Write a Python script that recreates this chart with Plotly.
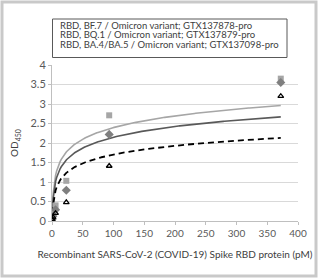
import numpy as np
import plotly.graph_objects as go

# ---- data ----
conc = [0.0908, 0.363, 1.45, 5.81, 23.25, 93, 372]          # pM, 4-fold dilutions
bf7 = [0.08, 0.12, 0.20, 0.40, 1.03, 2.71, 3.65]             # RBD, BF.7
bq1 = [0.05, 0.06, 0.12, 0.29, 0.79, 2.22, 3.55]             # RBD, BQ.1
ba45 = [0.04, 0.05, 0.10, 0.20, 0.48, 1.41, 3.20]            # RBD, BA.4/BA.5
series_names = [
    "RBD, BF.7 / Omicron variant; GTX137878-pro",
    "RBD, BQ.1 / Omicron variant; GTX137879-pro",
    "RBD, BA.4/BA.5 / Omicron variant; GTX137098-pro",
]
x_ticks = [0, 50, 100, 150, 200, 250, 300, 350, 400]
y_ticks = [0, 0.5, 1, 1.5, 2, 2.5, 3, 3.5, 4]

FONT = "Lato, Roboto, sans-serif"
W, H = 318, 278
L, R, T, B = 52, 20, 65, 57
pw, ph = W - L - R, H - T - B


def px2paper(px, py):
    return (px - L) / pw, (H - B - py) / ph


fig = go.Figure()

styles = [
    dict(marker=dict(symbol="square", size=6, color="#a6a6a6"),
         line=dict(color="#a6a6a6", width=1.6)),
    dict(marker=dict(symbol="diamond", size=7, color="#7f7f7f"),
         line=dict(color="#595959", width=1.6)),
    dict(marker=dict(symbol="triangle-up-open", size=5, color="#000000",
                     line=dict(width=1.3, color="#000000")),
         line=dict(color="#000000", width=1.8, dash="6px,4px")),
]

x_arr = np.array(conc)
fit_x = np.sort(np.concatenate([x_arr, np.linspace(x_arr.min(), x_arr.max(), 200)]))
for ys, st, nm in zip([bf7, bq1, ba45], styles, series_names):
    # logarithmic trend line (least squares on ln x), as in the original
    a, b = np.polyfit(np.log(x_arr), np.array(ys), 1)
    fig.add_trace(go.Scatter(x=fit_x, y=a * np.log(fit_x) + b, mode="lines",
                             line=st["line"], hoverinfo="skip", showlegend=False))
for ys, st, nm in zip([bf7, bq1, ba45], styles, series_names):
    fig.add_trace(go.Scatter(x=conc, y=ys, mode="markers", name=nm,
                             marker=st["marker"], showlegend=False, cliponaxis=True))

# outer frame
fx0, fy0 = px2paper(2, 276)
fx1, fy1 = px2paper(316, 2)
fig.add_shape(type="rect", xref="paper", yref="paper", x0=fx0, y0=fy0, x1=fx1, y1=fy1,
              line=dict(color="#c9c9c9", width=3), layer="below")
# legend box
bx0, by0 = px2paper(52.5, 57.5)
bx1, by1 = px2paper(287, 19)
fig.add_shape(type="rect", xref="paper", yref="paper", x0=bx0, y0=by0, x1=bx1, y1=by1,
              line=dict(color="#595959", width=1), fillcolor="white")
for i, nm in enumerate(series_names):
    tx, ty = px2paper(57.5, 25 + i * 9.7)
    fig.add_annotation(text=nm, xref="paper", yref="paper", x=tx, y=ty,
                       xanchor="left", yanchor="middle", showarrow=False,
                       font=dict(family=FONT, size=9.5, color="#404040"))

fig.update_layout(
    width=W, height=H,
    margin=dict(l=L, r=R, t=T, b=B),
    paper_bgcolor="white", plot_bgcolor="white",
    font=dict(family=FONT, size=10, color="#595959"),
)
fig.update_xaxes(range=[0, 400], tickvals=x_ticks, ticktext=[str(v) for v in x_ticks],
                 showgrid=False, zeroline=False, showline=True, linecolor="#bfbfbf",
                 ticks="outside", ticklen=3, tickcolor="#bfbfbf",
                 tickfont=dict(size=10, color="#595959"),
                 title=dict(text="Recombinant SARS-CoV-2 (COVID-19) Spike RBD protein (pM)",
                            font=dict(size=10, color="#404040"), standoff=12))
fig.update_yaxes(range=[0, 4], tickvals=y_ticks, ticktext=[f"{v:g}" for v in y_ticks],
                 showgrid=True, gridcolor="#d9d9d9", gridwidth=1, zeroline=False,
                 showline=True, linecolor="#bfbfbf",
                 ticks="outside", ticklen=3, tickcolor="#bfbfbf",
                 tickfont=dict(size=11, color="#595959"),
                 title=dict(text="OD<sub>450</sub>", font=dict(size=10, color="#404040"),
                            standoff=9))

fig.write_html("out.html",
               config={"displayModeBar": False},
               post_script="document.body.style.margin='0';"
                           "document.body.style.overflow='hidden';")
